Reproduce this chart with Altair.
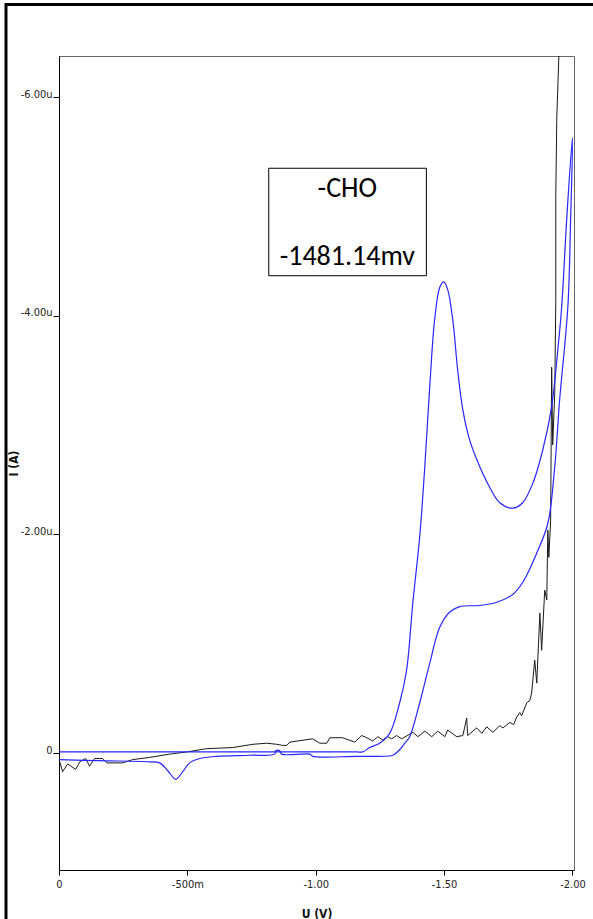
import altair as alt
import pandas as pd

# ---- data (U in V, I in microamps) ----
blue_fwd_U = [0, -0.353, -0.743, -1.093, -1.160, -1.183, -1.210, -1.249, -1.288, -1.327,
              -1.354, -1.378, -1.405, -1.424, -1.444, -1.463, -1.483, -1.499, -1.514, -1.534,
              -1.553, -1.573, -1.600, -1.639, -1.678, -1.717, -1.768, -1.806, -1.846, -1.884,
              -1.919, -1.943, -1.958, -1.978, -2.000]
blue_fwd_I = [-0.01, -0.01, -0.01, -0.01, -0.01, -0.01, -0.05, -0.09, -0.18, -0.46,
              -0.76, -1.37, -1.98, -2.59, -3.35, -3.96, -4.26, -4.31, -4.24, -3.96,
              -3.50, -3.14, -2.86, -2.62, -2.43, -2.29, -2.24, -2.29, -2.47, -2.77,
              -3.17, -3.69, -4.08, -4.90, -5.63]

blue_rev_U = [-1.993, -1.982, -1.950, -1.931, -1.904, -1.861, -1.806, -1.767, -1.705, -1.639,
              -1.561, -1.522, -1.483, -1.444, -1.405, -1.366, -1.347, -1.327, -1.300, -1.250,
              -1.160, -0.988, -0.977, -0.867, -0.860, -0.844, -0.840, -0.743, -0.614, -0.548,
              -0.509, -0.482, -0.455, -0.423, -0.392, -0.353, -0.159, 0]
blue_rev_I = [-4.90, -4.08, -3.23, -2.62, -2.10, -1.83, -1.56, -1.45, -1.38, -1.35,
              -1.34, -1.29, -1.15, -0.82, -0.46, -0.15, -0.09, -0.03, 0.02, 0.03,
              0.03, 0.03, 0.01, 0.01, -0.02, -0.02, 0.01, 0.02, 0.03, 0.05,
              0.09, 0.17, 0.24, 0.16, 0.09, 0.08, 0.07, 0.06]

black_U = [-0.003, -0.014, -0.034, -0.065, -0.081, -0.104, -0.119, -0.139, -0.159, -0.170,
           -0.186, -0.248, -0.287, -0.353, -0.431, -0.497, -0.575, -0.677, -0.755, -0.809,
           -0.848, -0.871, -0.887, -0.899, -0.988, -1.016, -1.043, -1.055, -1.105, -1.152,
           -1.179, -1.199, -1.222, -1.242, -1.261, -1.280, -1.296, -1.315, -1.335, -1.378,
           -1.398, -1.425, -1.452, -1.475, -1.503, -1.514, -1.549, -1.573, -1.588, -1.592,
           -1.627, -1.647, -1.666, -1.690, -1.717, -1.729, -1.756, -1.771, -1.783, -1.795,
           -1.802, -1.822, -1.834, -1.841, -1.853, -1.861, -1.873, -1.880, -1.892, -1.900,
           -1.904, -1.908, -1.915, -1.919, -1.923, -1.931, -1.935, -1.935, -1.939, -1.947,
           -1.951]
black_I = [0.08, 0.17, 0.10, 0.15, 0.08, 0.05, 0.12, 0.05, 0.05, 0.05,
           0.09, 0.09, 0.06, 0.04, 0.01, -0.01, -0.04, -0.05, -0.08, -0.09,
           -0.08, -0.07, -0.07, -0.10, -0.13, -0.09, -0.09, -0.14, -0.14, -0.10,
           -0.16, -0.14, -0.11, -0.15, -0.12, -0.15, -0.13, -0.16, -0.13, -0.19,
           -0.15, -0.20, -0.15, -0.20, -0.15, -0.21, -0.15, -0.16, -0.32, -0.16,
           -0.23, -0.18, -0.24, -0.19, -0.25, -0.23, -0.28, -0.26, -0.33, -0.37,
           -0.34, -0.46, -0.48, -0.55, -0.85, -0.64, -1.28, -0.94, -1.49, -1.40,
           -2.04, -1.79, -2.13, -3.53, -2.82, -3.29, -4.14, -5.09, -5.82, -6.37,
           -6.80]

x_ticks = [0, -0.5, -1.0, -1.5, -2.0]
y_ticks = [-6, -4, -2, 0]
x_domain = [0, -2.006]
y_domain = [1.07, -6.377]

note_lines = ["-CHO", "-1481.14mv"]
note_U = [-1.123, -1.123]
note_I = [-5.09, -4.465]
box_U = [-0.817, -1.431]
box_I = [-5.35, -4.367]

# ---- tables ----
blue_U = blue_fwd_U + blue_rev_U
blue_I = blue_fwd_I + blue_rev_I
blue = pd.DataFrame({"U": blue_U, "I": blue_I, "k": list(range(len(blue_U)))})
black = pd.DataFrame({"U": black_U, "I": black_I, "k": list(range(len(black_U)))})
notes = pd.DataFrame({"U": note_U, "I": note_I, "t": note_lines})
box = pd.DataFrame({"U": [box_U[0]], "U2": [box_U[1]], "I": [box_I[0]], "I2": [box_I[1]]})

narrow = "Liberation Sans Narrow, Arial Narrow, DejaVu Sans Condensed, sans-serif"

x_enc = alt.X("U:Q", scale=alt.Scale(domain=x_domain, nice=False, zero=False),
              axis=alt.Axis(values=x_ticks, title="U (V)", grid=False,
                            labelExpr="datum.value == 0 ? '0' : (datum.value == -0.5 ? '-500m' : '-' + format(abs(datum.value), '.2f'))",
                            tickSize=5, labelPadding=3, labelFont=narrow, labelFontSize=11,
                            labelColor="#222222", titleFont=narrow, titleFontSize=12,
                            titleFontWeight="bold", titleColor="#111111",
                            titleY=47, titleBaseline="alphabetic",
                            domainColor="#000000", tickColor="#000000", labelFlush=False))
y_enc = alt.Y("I:Q", scale=alt.Scale(domain=y_domain, nice=False, zero=False),
              axis=alt.Axis(values=y_ticks, title="I (A)", grid=False,
                            labelExpr="datum.value == 0 ? '0' : '-' + format(abs(datum.value), '.2f') + 'u'",
                            tickSize=6, labelPadding=1, labelBaseline="alphabetic",
                            labelFont=narrow, labelFontSize=11, labelColor="#222222",
                            titleFont=narrow, titleFontSize=12, titleFontWeight="bold",
                            titleColor="#111111", titleX=-46, titleY=407, titleAngle=270,
                            titleAlign="center", titleBaseline="middle",
                            domainColor="#000000", tickColor="#000000", labelFlush=False))

black_line = alt.Chart(black).mark_line(color="#1a1a1a", strokeWidth=1, clip=True).encode(
    x=x_enc, y=y_enc, order=alt.Order("k:Q"))
blue_line = alt.Chart(blue).mark_line(color="#2626ff", strokeWidth=1.2, clip=True,
                                      interpolate="catmull-rom").encode(
    x="U:Q", y="I:Q", order=alt.Order("k:Q"))
box_mark = alt.Chart(box).mark_rect(fill="white", stroke="black", strokeWidth=1).encode(
    x="U:Q", x2="U2:Q", y="I:Q", y2="I2:Q")
note_text = alt.Chart(notes).mark_text(font="Carlito, Lato, sans-serif", fontSize=28,
                                        align="center", baseline="alphabetic",
                                        color="black").encode(x="U:Q", y="I:Q", text="t:N")
frame = alt.Chart(pd.DataFrame({"a": [0]})).mark_rect(
    fill=None, stroke="black", strokeWidth=3, clip=False).encode(
    x=alt.value(-53), x2=alt.value(700), y=alt.value(-51.5), y2=alt.value(1000))

chart = alt.layer(black_line, blue_line, box_mark, note_text, frame).properties(
    width=515, height=814,
    autosize=alt.AutoSizeParams(type="none"),
    padding={"left": 59, "top": 56, "right": 19, "bottom": 49},
    background="white",
).configure_view(stroke="#666666", strokeWidth=1)

chart.save("out.html", embed_options={"renderer": "svg", "actions": False})
